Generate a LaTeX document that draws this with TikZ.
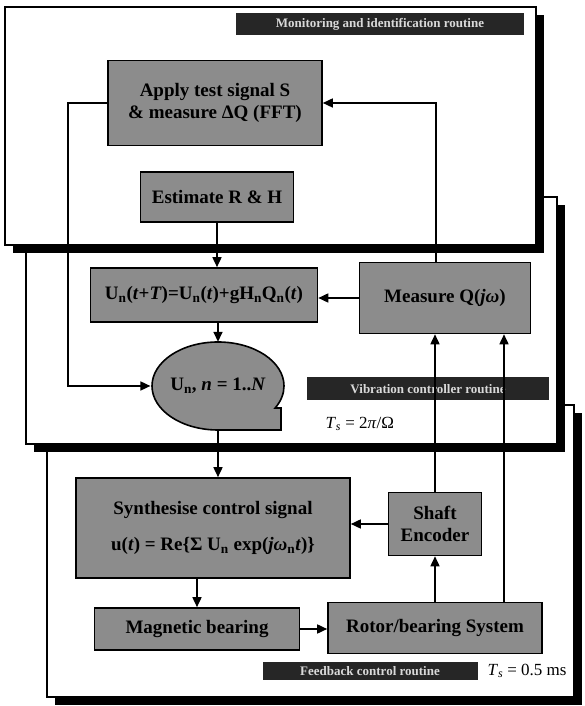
\documentclass[tikz,border=0pt]{standalone}
\usepackage{fontspec}
\setmainfont{Liberation Serif}
\usetikzlibrary{arrows.meta,shapes.geometric}

\begin{document}
\begin{tikzpicture}[x=1pt,y=1pt,
    font=\fontsize{19}{22}\selectfont\bfseries,
    blockbox/.style={draw=black,line width=1.6pt,fill=black!45,inner sep=2pt},
    panel/.style={draw=black,line width=1.4pt,fill=white},
    routinebar/.style={fill=black!85,text=white!85!black,inner sep=0pt,
        font=\fontsize{13}{14}\selectfont\bfseries},
    flow/.style={line width=1.6pt,-{Triangle[length=10pt,width=9pt]}}]

        \useasboundingbox (0,0) rectangle (584,706);

        % Routine panels, back to front
        \fill (55,1) rectangle (582,293);
        \filldraw[panel] (47,9) rectangle (574,301);
        \fill (34,254) rectangle (565,501);
        \filldraw[panel] (26,262) rectangle (557,509);
        \fill (13,453) rectangle (544,691);
        \filldraw[panel] (5,461) rectangle (536,699);

        % Routine titles
        \node[routinebar,minimum width=288,minimum height=22] (monbar) at (380,682) {Monitoring and identification routine};
        \node[routinebar,minimum width=242,minimum height=23] (vibbar) at (428,317) {Vibration controller routine};
        \node[routinebar,minimum width=215,minimum height=18] (fbbar) at (370,35) {Feedback control routine};
        \node[anchor=west,font=\fontsize{17}{20}\selectfont] (tsvib) at (322,282) {\textit{T}\textsubscript{\textit{s}} = 2\textit{π}/Ω};
        \node[anchor=west,font=\fontsize{17}{20}\selectfont] (tsfb) at (484,35) {\textit{T}\textsubscript{\textit{s}} = 0.5 ms};

        % Monitoring and identification
        \node[blockbox,minimum width=214,minimum height=85,align=center] (apply) at (215,603) {Apply test signal S\\\& measure ΔQ (FFT)};
        \node[blockbox,minimum width=153,minimum height=50] (estimate) at (217,509) {Estimate R \& H};

        % Vibration controller
        \node[blockbox,minimum width=227,minimum height=54] (update) at (204,411) {U\textsubscript{n}(\textit{t}+\textit{T})=U\textsubscript{n}(\textit{t})+gH\textsubscript{n}Q\textsubscript{n}(\textit{t})};
        \node[blockbox,minimum width=171,minimum height=71] (measure) at (445,408) {Measure Q(\textit{jω})};
        \filldraw[blockbox] (218,276) arc[start angle=270,end angle=-30,x radius=66,y radius=44] -- (281,298) -- (281,276) -- cycle;
        \node[ellipse,minimum width=132,minimum height=88,inner sep=0pt] (store) at (218,320) {U\textsubscript{n}, \textit{n} = 1..\textit{N}};

        % Feedback control
        \node[blockbox,minimum width=274,minimum height=100,align=center] (synth) at (213,178) {Synthesise control signal\\[14pt]u(\textit{t}) = Re\{Σ U\textsubscript{n} exp(\textit{jω}\textsubscript{n}\textit{t})\}};
        \node[blockbox,minimum width=93,minimum height=63,align=center] (shaft) at (435,182) {Shaft\\Encoder};
        \node[blockbox,minimum width=205,minimum height=42] (magnetic) at (197,77) {Magnetic bearing};
        \node[blockbox,minimum width=214,minimum height=51] (rotor) at (435,78) {Rotor/bearing System};

        % Connectors
        \coordinate (fbl) at (68,0);
        \coordinate (rloop) at (436,0);
        \coordinate (rtap) at (504,0);
        \draw[flow] (apply.west) -- (fbl |- apply.west) -- (fbl |- store.west) -- (store.west);
        \draw[flow] (rloop |- measure.north) -- (rloop |- apply.east) -- (apply.east);
        \draw[flow] (estimate.south) -- (estimate.south |- update.north);
        \draw[flow] (measure.west) -- (update.east |- measure.west);
        \draw[flow] (store.north |- update.south) -- (store.north);
        \draw[flow] (store.south) -- (store.south |- synth.north);
        \draw[flow] (shaft.west) -- (synth.east |- shaft.west);
        \draw[flow] (magnetic.north |- synth.south) -- (magnetic.north);
        \draw[flow] (magnetic.east) -- (rotor.west |- magnetic.east);
        \draw[flow] (rotor.north -| shaft) -- (shaft.south);
        \draw[flow] (shaft.north) -- (shaft.north |- measure.south);
        \draw[flow] (rtap |- rotor.north) -- (rtap |- measure.south);

    \end{tikzpicture}
\end{document}
